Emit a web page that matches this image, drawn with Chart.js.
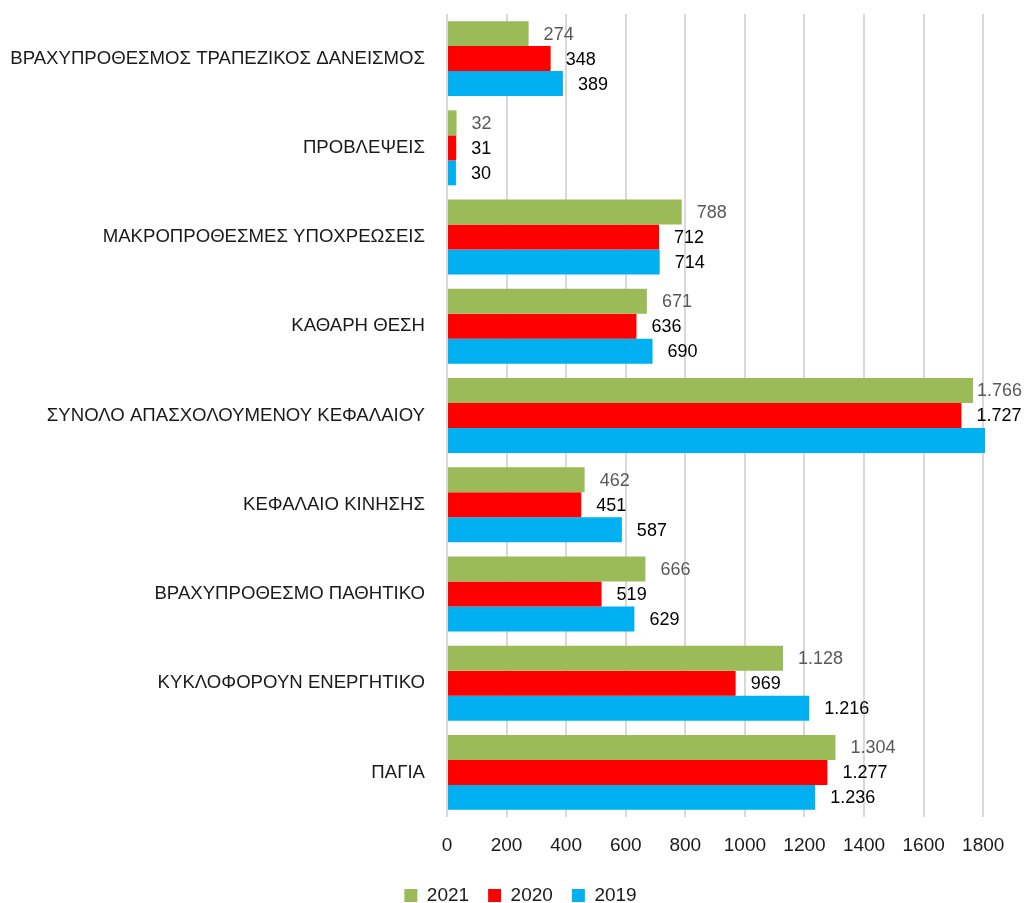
<!DOCTYPE html>
<html>
<head>
<meta charset="utf-8">
<script src="https://cdn.jsdelivr.net/npm/chart.js@4"></script>
<style>
html, body { margin: 0; padding: 0; background: #fff; }
#wrap { width: 1025px; height: 903px; }
</style>
</head>
<body>
<div id="wrap"><canvas id="mainChart"></canvas></div>
<script>
const categories = [
    'ΒΡΑΧΥΠΡΟΘΕΣΜΟΣ ΤΡΑΠΕΖΙΚΟΣ ΔΑΝΕΙΣΜΟΣ',
    'ΠΡΟΒΛΕΨΕΙΣ',
    'ΜΑΚΡΟΠΡΟΘΕΣΜΕΣ ΥΠΟΧΡΕΩΣΕΙΣ',
    'ΚΑΘΑΡΗ ΘΕΣΗ',
    'ΣΥΝΟΛΟ ΑΠΑΣΧΟΛΟΥΜΕΝΟΥ ΚΕΦΑΛΑΙΟΥ',
    'ΚΕΦΑΛΑΙΟ ΚΙΝΗΣΗΣ',
    'ΒΡΑΧΥΠΡΟΘΕΣΜΟ ΠΑΘΗΤΙΚΟ',
    'ΚΥΚΛΟΦΟΡΟΥΝ ΕΝΕΡΓΗΤΙΚΟ',
    'ΠΑΓΙΑ'
];
const values2021 = [274, 32, 788, 671, 1766, 462, 666, 1128, 1304];
const values2020 = [348, 31, 712, 636, 1727, 451, 519, 969, 1277];
const values2019 = [389, 30, 714, 690, 1823, 587, 629, 1216, 1236];
const xTicks = [0, 200, 400, 600, 800, 1000, 1200, 1400, 1600, 1800];

const FONT = '"Liberation Sans", Arial, sans-serif';
const labelColors = ['#595959', '#000000', '#000000'];

// Greek style thousands separator: 1.766
function fmt(v) {
    return String(v).replace(/\B(?=(\d{3})+(?!\d))/g, '.');
}

const barLabels = {
    id: 'barLabels',
    afterDatasetsDraw(chart) {
        const ctx = chart.ctx;
        const xScale = chart.scales.x;
        ctx.save();
        ctx.font = '18px ' + FONT;
        ctx.textBaseline = 'middle';
        ctx.textAlign = 'left';
        chart.data.datasets.forEach((ds, i) => {
            const meta = chart.getDatasetMeta(i);
            meta.data.forEach((bar, j) => {
                const v = ds.data[j];
                if (v > xScale.max) return; // bar runs off the plot, no label
                const txt = fmt(v);
                const w = ctx.measureText(txt).width;
                const x = Math.min(bar.x + 15, chart.width - w - 3);
                ctx.fillStyle = labelColors[i];
                ctx.fillText(txt, x, bar.y + 1);
            });
        });
        ctx.restore();
    }
};

// legend is centred on the whole canvas, not on the plot box
const legendShift = {
    id: 'legendShift',
    afterLayout(chart) {
        if (!chart.legend) return;
        chart.legend.left += 28;
        chart.legend.right += 28;
    }
};

const ctx = document.getElementById('mainChart').getContext('2d');
const balanceChart = new Chart(ctx, {
    type: 'bar',
    data: {
        labels: categories,
        datasets: [
            { label: '2021', data: values2021, backgroundColor: '#9BBB59' },
            { label: '2020', data: values2020, backgroundColor: '#FF0000' },
            { label: '2019', data: values2019, backgroundColor: '#00B0F0' }
        ]
    },
    options: {
        indexAxis: 'y',
        responsive: true,
        maintainAspectRatio: false,
        animation: false,
        layout: { padding: { top: 14, right: 40, bottom: -12, left: 0 } },
        datasets: {
            bar: { categoryPercentage: 0.84, barPercentage: 1.0 }
        },
        scales: {
            x: {
                min: 0,
                max: 1806,
                afterBuildTicks: (scale) => {
                    scale.ticks = xTicks.map(v => ({ value: v }));
                },
                afterFit: (scale) => { scale.height = 50; },
                grid: { color: '#d9d9d9', lineWidth: 2, drawTicks: false },
                border: { display: false },
                ticks: {
                    color: '#1a1a1a',
                    font: { family: FONT, size: 19 },
                    padding: 17,
                    callback: (v) => String(v)
                }
            },
            y: {
                afterFit: (scale) => {
                    scale.width = 447;
                    scale.paddingTop = 0;
                    scale.paddingBottom = 0;
                },
                grid: { display: false },
                border: { display: false },
                ticks: {
                    color: '#1a1a1a',
                    font: { family: FONT, size: 18.6 },
                    padding: 14
                }
            }
        },
        plugins: {
            legend: {
                position: 'bottom',
                labels: {
                    boxWidth: 13,
                    boxHeight: 13,
                    padding: 19,
                    color: '#1a1a1a',
                    font: { family: FONT, size: 19 }
                }
            },
            tooltip: { enabled: false }
        }
    },
    plugins: [barLabels, legendShift]
});
</script>
</body>
</html>
